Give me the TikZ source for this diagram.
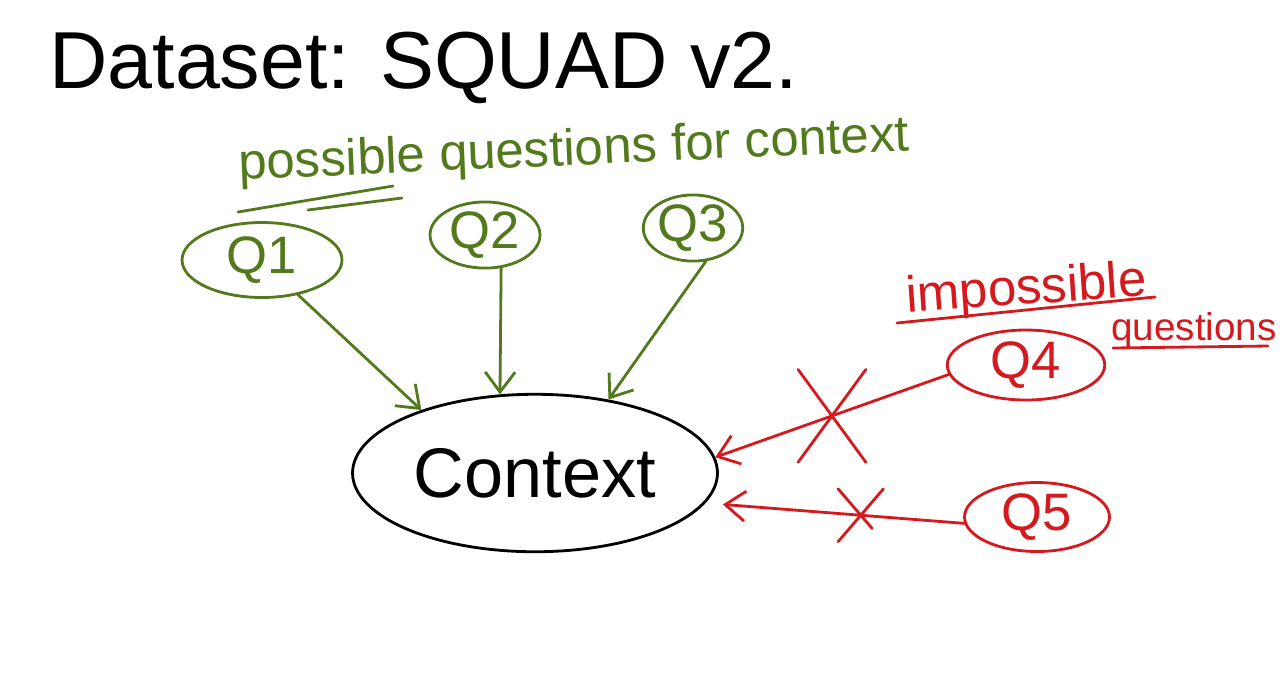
\documentclass[tikz,border=0pt]{standalone}
\usepackage{fontspec}
\setmainfont{Liberation Sans}
\usetikzlibrary{shapes.geometric,shapes.misc,arrows.meta}
\definecolor{leaf}{HTML}{527A1C}
\definecolor{brick}{HTML}{D51A1F}

\begin{document}
\begin{tikzpicture}[x=0.02cm,y=-0.02cm,line width=1.6pt,line cap=round,
  qbox/.style={ellipse,draw,inner sep=0pt,font=\fontsize{30}{34}\selectfont},
  okarrow/.style={leaf,-{Straight Barb[length=4mm,width=6mm]}},
  noarrow/.style={brick,-{Straight Barb[length=4mm,width=6mm]}},
  nogo/.style={cross out,draw=brick,-,inner sep=0pt}]
\useasboundingbox[fill=white] (0,0) rectangle (1280,681);
\node[anchor=base west,font=\fontsize{46}{52}\selectfont] (title) at (42,88) {Dataset: SQUAD v2.};
% possible questions
\node[leaf,anchor=base west,rotate=2.5,font=\fontsize{29}{34}\selectfont] (poss) at (232,180) {possible questions for context};
\draw[leaf] (238,212) -- (393,186);
\draw[leaf] (308,210) -- (402,198);
\node[qbox,leaf,minimum width=3.2cm,minimum height=1.5cm] (q1) at (262,260) {Q1};
\node[qbox,leaf,minimum width=2.2cm,minimum height=1.08cm] (q2) at (485,235) {Q2};
\node[qbox,leaf,minimum width=1.95cm,minimum height=1.1cm] (q3) at (693,228) {Q3};
\node[ellipse,draw,minimum width=7.3cm,minimum height=3.15cm,font=\fontsize{40}{46}\selectfont] (ctx) at (535,473) {Context};
\draw[okarrow] (q1.-44) -- (ctx.151);
\draw[okarrow] (q2.-64) -- (ctx.114);
\draw[okarrow] (q3.-69) -- (ctx.45);
% impossible questions
\node[brick,anchor=base west,rotate=4,font=\fontsize{29}{34}\selectfont] (imp) at (900,313) {impossible};
\node[brick,anchor=base west,font=\fontsize{22}{26}\selectfont] (ques) at (1104,340) {questions};
\draw[brick] (897,323) -- (1155,297);
\draw[brick] (1113,348) -- (1268,346);
\node[qbox,brick,minimum width=3.15cm,minimum height=1.4cm] (q4) at (1026,365) {Q4};
\node[qbox,brick,minimum width=2.9cm,minimum height=1.38cm] (q5) at (1037,517) {Q5};
\draw[noarrow] (q4.187) -- node[nogo,pos=.5,minimum width=1.3cm,minimum height=1.8cm] (x4) {} (ctx.5);
\draw[noarrow,shorten >=.35cm] (q5.185) -- node[nogo,pos=.4,minimum width=.85cm,minimum height=1cm] (x5) {} (ctx.-10);
\end{tikzpicture}
\end{document}
